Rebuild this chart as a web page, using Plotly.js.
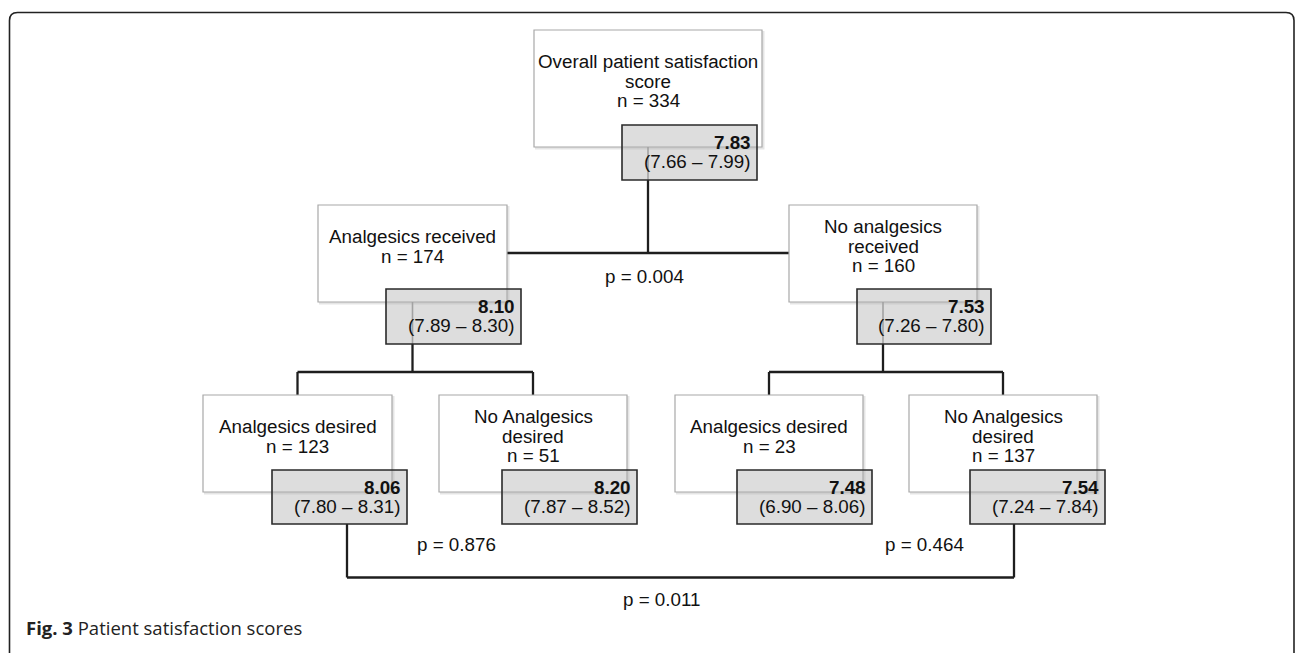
<!DOCTYPE html>
<html>
<head>
<meta charset="utf-8">
<script src="https://cdn.plot.ly/plotly-3.0.1.min.js"></script>
<style>html,body{margin:0;padding:0;background:#fff;}#chart{width:1296px;height:653px;}</style>
</head>
<body>
<div id="chart"></div>
<script>
// ---- data ----
const nodeLabels = [
  ["Overall patient satisfaction", "score"],
  ["Analgesics received"],
  ["No analgesics", "received"],
  ["Analgesics desired"],
  ["No Analgesics", "desired"],
  ["Analgesics desired"],
  ["No Analgesics", "desired"]
];
const nodeN = [334, 174, 160, 123, 51, 23, 137];
const meanScore = [7.83, 8.10, 7.53, 8.06, 8.20, 7.48, 7.54];
const ciLow = [7.66, 7.89, 7.26, 7.80, 7.87, 6.90, 7.24];
const ciHigh = [7.99, 8.30, 7.80, 8.31, 8.52, 8.06, 7.84];
const pValues = ["0.004", "0.876", "0.464", "0.011"];
const captionBold = "Fig. 3";
const captionText = "Patient satisfaction scores";

// ---- layout geometry ----
const whiteBox = [
  [534, 762, 30, 147],
  [318, 507, 205, 302],
  [789, 977, 205, 302],
  [203, 392, 395, 492],
  [439, 627, 395, 492],
  [675, 863, 395, 492],
  [909, 1097, 395, 492]
];
const grayBox = [
  [622, 757, 125, 180],
  [386, 521, 289, 344],
  [857, 991, 289, 344],
  [272, 407, 470, 524],
  [502, 637, 470, 524],
  [737, 872, 470, 524],
  [970, 1105, 470, 524]
];
const pPos = [[644, 283], [456, 551], [924, 551], [661, 606]];

const FONT = "Liberation Sans, Arial, sans-serif";
const FS = 18.8;
const LINE = "#1e1e1e";
const shapes = [];
const annotations = [];

function seg(x0, y0, x1, y1, color, w) {
  shapes.push({type: "line", xref: "x", yref: "y", x0: x0, y0: y0, x1: x1, y1: y1,
    line: {color: color || LINE, width: w || 2.3}, layer: "above"});
}
function txt(x, yBase, text, anchor, bold) {
  annotations.push({xref: "x", yref: "y", x: x, y: yBase - 6.3, text: bold ? "<b>" + text + "</b>" : text,
    xanchor: anchor, yanchor: "middle", showarrow: false,
    font: {family: FONT, size: FS, color: "#111"}, borderpad: 0});
}

// frame
shapes.push({type: "path", xref: "x", yref: "y",
  path: "M9.5,653 L9.5,20.5 Q9.5,12.5 17.5,12.5 L1286,12.5 Q1294,12.5 1294,20.5 L1294,653",
  line: {color: "#222", width: 1.6}, layer: "above"});

// connectors (below boxes)
const cx = whiteBox.map(b => (b[0] + b[1]) / 2);
// root -> level 1
seg(cx[0], grayBox[0][3], cx[0], 253);
seg(whiteBox[1][1], 253, whiteBox[2][0], 253);
// level1 left
seg(cx[1], grayBox[1][3], cx[1], 372);
seg(cx[3], 372, cx[4], 372);
seg(cx[3], 372, cx[3], whiteBox[3][2]);
seg(cx[4], 372, cx[4], whiteBox[4][2]);
// level1 right
seg(cx[2], grayBox[2][3], cx[2], 372);
seg(cx[5], 372, cx[6], 372);
seg(cx[5], 372, cx[5], whiteBox[5][2]);
seg(cx[6], 372, cx[6], whiteBox[6][2]);
// bottom comparison
seg(347, grayBox[3][3], 347, 577.5);
seg(347, 577.5, 1014, 577.5);
seg(1014, grayBox[6][3], 1014, 577.5);

// boxes
whiteBox.forEach((b, i) => {
  // shadow
  shapes.push({type: "rect", xref: "x", yref: "y", x0: b[0] + 1, x1: b[1] + 2.5, y0: b[2] + 1, y1: b[3] + 2.5,
    fillcolor: "rgba(0,0,0,0.10)", line: {width: 0}, layer: "above"});
  shapes.push({type: "rect", xref: "x", yref: "y", x0: b[0], x1: b[1], y0: b[2], y1: b[3],
    fillcolor: "#ffffff", line: {color: "#a8a8a8", width: 1.2}, layer: "above"});
  if (i < 3) {
    // faint connector visible through the shaded box
    shapes.push({type: "line", xref: "x", yref: "y", x0: cx[i], x1: cx[i], y0: b[3], y1: grayBox[i][3],
      line: {color: "#9a9a9a", width: 1.6}, layer: "above"});
  }
  const g = grayBox[i];
  shapes.push({type: "rect", xref: "x", yref: "y", x0: g[0], x1: g[1], y0: g[2], y1: g[3],
    fillcolor: "rgba(175,175,175,0.42)", line: {color: "#2a2a2a", width: 1.6}, layer: "above"});

  // label text
  const lines = nodeLabels[i].concat(["n = " + nodeN[i]]);
  const mid = (b[2] + b[3]) / 2 - 1;
  const sp = 19.6;
  lines.forEach((t, k) => {
    const base = mid + (k - (lines.length - 1) / 2) * sp + 0;
    txt(cx[i], base, t, "center", false);
  });
  // score text
  txt(g[1] - 5, g[2] + 23.3, meanScore[i].toFixed(2), "right", true);
  txt(g[1] - 5, g[2] + 42.3, "(" + ciLow[i].toFixed(2) + " \u2013 " + ciHigh[i].toFixed(2) + ")", "right", false);
});

// p values
pValues.forEach((p, i) => txt(pPos[i][0], pPos[i][1], "p = " + p, "center", false));

// caption
annotations.push({xref: "x", yref: "y", x: 24, y: 627, xanchor: "left", yanchor: "middle", showarrow: false,
  text: "<b>" + captionBold + "</b> " + captionText,
  font: {family: "Open Sans, Noto Sans, sans-serif", size: 18.5, color: "#222"}});

const layout = {
  width: 1296, height: 653,
  margin: {l: 0, r: 0, t: 0, b: 0},
  paper_bgcolor: "#fff", plot_bgcolor: "#fff",
  xaxis: {range: [0, 1296], visible: false, fixedrange: true},
  yaxis: {range: [653, 0], visible: false, fixedrange: true},
  showlegend: false,
  shapes: shapes,
  annotations: annotations
};
Plotly.newPlot("chart", [{x: [], y: [], type: "scatter", mode: "markers", hoverinfo: "skip"}], layout,
  {staticPlot: true, displayModeBar: false});
</script>
</body>
</html>
